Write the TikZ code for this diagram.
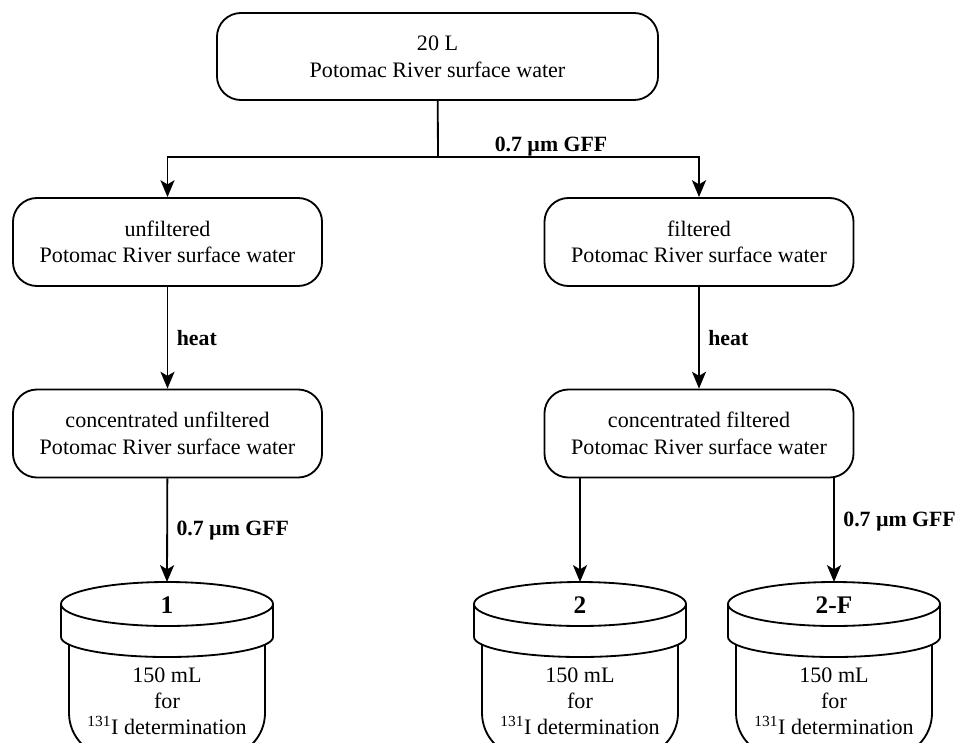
\documentclass[tikz,border=0pt]{standalone}
\usepackage{fontspec}
\setmainfont{Liberation Serif}
\usetikzlibrary{arrows.meta,positioning}

\begin{document}
\begin{tikzpicture}[x=0.025cm,y=-0.025cm,>={Stealth[length=12pt,width=10pt,inset=3pt]},
		linea/.style={line width=1.3pt},
		freccia/.style={->, line width=1.3pt},
		scatola/.style={draw, line width=1.3pt, rounded corners=0.6cm, align=center, inner sep=0pt,
			minimum width=7.725cm, minimum height=2.2cm, font=\fontsize{15.7}{18.9}\selectfont},
		etichetta/.style={font=\fontsize{15.5}{18}\selectfont\bfseries, inner sep=0pt},
		testo/.style={align=center, inner sep=0pt, font=\fontsize{15.7}{18.4}\selectfont},
		]
		% ── Barattolo: #1 ascissa, #2 nome, #3 numero sul coperchio ──
		\def\barattolo#1#2#3{%
			\draw[linea, rounded corners=1.1cm] (#1-98,644) -- (#1-98,757) -- (#1+98,757) -- (#1+98,644);
			\draw[linea, fill=white] (#1-106,604) -- (#1-106,637)
				arc[start angle=180, end angle=360, x radius=2.65cm, y radius=0.5cm] -- (#1+106,604);
			\draw[linea, fill=white] (#1,604) ellipse[x radius=2.65cm, y radius=0.55cm];
			\coordinate (#2) at (#1,582);
			\node[etichetta, font=\fontsize{18}{20}\selectfont\bfseries] (#2-tappo) at (#1,605) {#3};
			\node[testo] (#2-testo) at (#1,701) {150 mL\\for\\\textsuperscript{131}I determination};}
		
		\useasboundingbox (0,0) rectangle (957,742);
		\clip (0,0) rectangle (957,742);
		
		% ===================== scatole =====================
		\node[scatola, minimum width=11.025cm, minimum height=2.175cm] (sorgente) at (437.5,56.5)
			{20 L\\Potomac River surface water};
		\node[scatola] (nonfiltr) at (167.5,242) {unfiltered\\Potomac River surface water};
		\node[scatola] (filtr) at (699,242) {filtered\\Potomac River surface water};
		\node[scatola] (concnf) at (167.5,433.5) {concentrated unfiltered\\Potomac River surface water};
		\node[scatola] (concf) at (699,433.5) {concentrated filtered\\Potomac River surface water};
		
		% ===================== barattoli =====================
		\barattolo{167}{vaso1}{1}
		\barattolo{580}{vaso2}{2}
		\barattolo{834}{vaso2F}{2-F}
		
		% ===================== collegamenti =====================
		\coordinate (bivio) at (438,157);
		\draw[linea] (sorgente) -- (bivio);
		\draw[freccia] (bivio) -| (nonfiltr);
		\draw[freccia] (bivio) -| (filtr);
		\node[etichetta] (gffA) at (551,147) {0.7 µm GFF};
		
		\draw[freccia] (nonfiltr) -- (concnf) node[etichetta, midway, right=6pt] (caloreA) {heat};
		\draw[freccia] (filtr) -- (concf) node[etichetta, midway, right=6pt] (caloreB) {heat};
		
		\draw[freccia] (concnf) -- (vaso1) node[etichetta, midway, right=6pt] (gffB) {0.7 µm GFF};
		\draw[freccia] (concf.south -| vaso2) -- (vaso2);
		\draw[freccia] (concf.south -| vaso2F) -- (vaso2F) node[etichetta, pos=0.42, right=6pt] (gffC) {0.7 µm GFF};
		
\end{tikzpicture}
\end{document}
